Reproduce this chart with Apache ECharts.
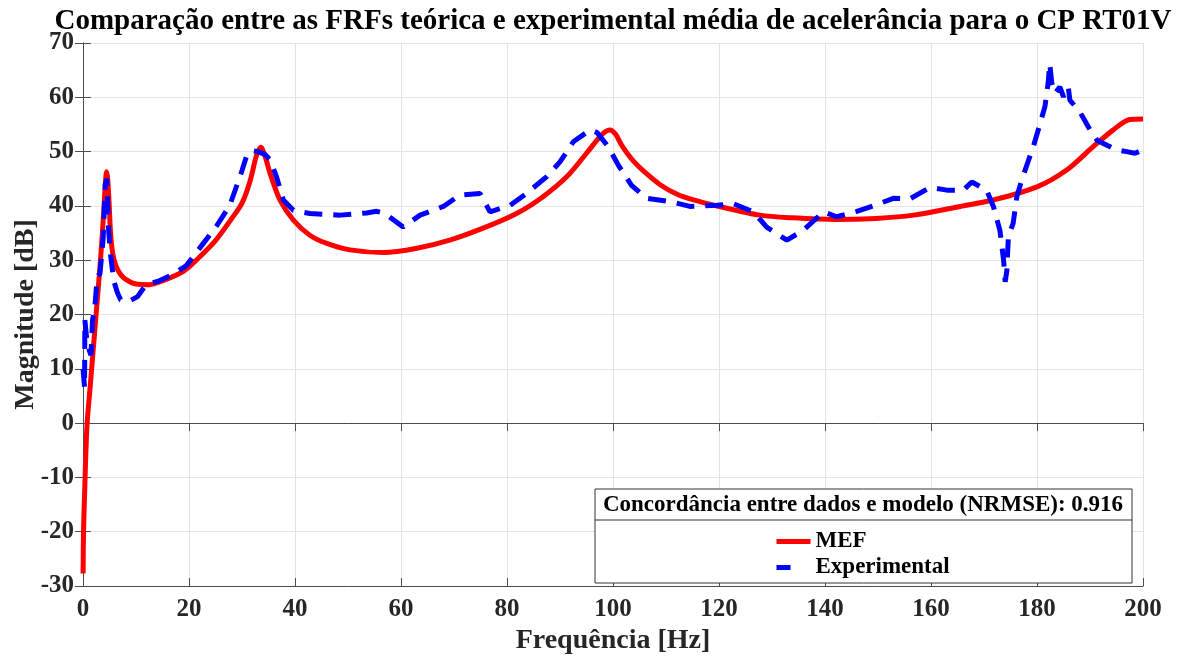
<!DOCTYPE html>
<html>
<head>
<meta charset="utf-8">
<script src="https://cdn.jsdelivr.net/npm/echarts@6/dist/echarts.min.js"></script>
<style>
  html, body { margin: 0; padding: 0; background: #fff; }
  #chart { width: 1179px; height: 658px; }
</style>
</head>
<body>
<div id="chart"></div>
<script>
// FRF teórica (MEF) - [frequência Hz, magnitude dB]
var mefData = [
  [0.02, -27.7], [0.1, -20], [0.3, -13], [0.75, -0.5], [1.4, 7.2], [2.35, 18.6],
  [3.3, 30], [3.9, 38.8], [4.25, 44.5], [4.45, 46.3], [4.65, 45], [4.9, 41],
  [5.2, 35], [5.6, 31.3], [6.2, 29], [7, 27.5], [8, 26.5], [10, 25.6],
  [12.5, 25.5], [15, 26.2], [19, 28], [22, 30.6], [25, 33.6], [28, 37.6],
  [30, 40.5], [31.5, 44.5], [32.8, 49.5], [33.6, 50.8], [34.3, 49.3], [35.3, 46],
  [37.2, 41], [39.7, 37.4], [42.8, 34.6], [46, 33.1], [50.4, 31.9], [56.7, 31.4],
  [63, 32.2], [69.2, 33.7], [75.5, 35.9], [81.8, 38.6], [86.8, 41.7], [91.3, 45.4],
  [95, 49.7], [97.5, 52.7], [98.6, 53.7], [99.4, 54], [100.5, 53.2], [101.5, 51.4],
  [102.6, 49.8], [104, 48.1], [106, 46.2], [108.9, 43.9], [112, 42.2], [115.2, 41.1],
  [120, 39.9], [127.7, 38.3], [134, 37.8], [142, 37.5], [149.7, 37.7], [156.7, 38.3],
  [165.5, 39.9], [171.8, 41.1], [180, 43.5], [185.6, 46.6], [190.6, 50.9], [194.4, 54],
  [197.5, 55.9], [200, 56]
];

// FRF experimental média - [frequência Hz, magnitude dB]
var expData = [
  [0, 10], [0.3, 6.5], [0.35, 19], [0.8, 14.5], [1.5, 12.5], [1.8, 19], [2.2, 21],
  [2.7, 27], [3.2, 27.5], [3.8, 34], [4.2, 44], [4.5, 45], [4.8, 36], [5.2, 31],
  [5.8, 26.2], [6.5, 24], [7.1, 22.7], [8, 22.4], [9, 22.6], [10.3, 23.3], [11.9, 25.5],
  [14.4, 26.2], [17, 27.4], [19.5, 29], [22.7, 33.1], [25.2, 36.3], [27.7, 40.1],
  [30, 46.5], [30.9, 49.3], [31.9, 50.2], [33, 50], [34.3, 49.5], [35.3, 48.5],
  [36.5, 45.4], [37.8, 41.1], [39.7, 39.2], [42.8, 38.6], [48.5, 38.3], [53.5, 38.7],
  [55.4, 39], [57, 38.6], [60.4, 36.1], [63.6, 38.3], [68, 39.9], [71.1, 42],
  [74.9, 42.3], [76.8, 38.9], [80.6, 40.1], [83.7, 42.3], [87.5, 45.4], [90, 48.1],
  [92.5, 51.8], [95.7, 54], [97, 53.5], [99.1, 50.9], [101, 47.5], [103.5, 43.8],
  [106.3, 41.4], [110.8, 40.8], [114.5, 39.9], [119.6, 40.1], [122.7, 40.4],
  [126.5, 38.9], [129, 36.1], [132.8, 33.7], [135.9, 35.5], [139.7, 38.9], [142.2, 38],
  [146, 39], [149.1, 40], [152.9, 41.4], [156, 41.3], [159.8, 43.4], [163, 42.9],
  [166.1, 42.9], [167.7, 44.4], [170.5, 42.9], [171.8, 39.8], [173, 35.5], [173.7, 30],
  [174, 26], [174.3, 28], [174.6, 34.3], [175.5, 36.8], [176.2, 41.7], [177.1, 44.7],
  [178.4, 48.4], [179.3, 50.9], [180.6, 55.2], [181.5, 58.3], [182.1, 62.6],
  [182.4, 66.2], [182.8, 62.6], [183.4, 60.7], [184.3, 61.9], [185, 60.1],
  [185.9, 61.9], [186.2, 59.5], [188.1, 57.3], [190, 54], [191.3, 52.1],
  [193.1, 51.2], [195, 50.3], [196.9, 50], [198.5, 49.7], [200, 50.3]
];

var seriesNames = ['MEF', 'Experimental'];
var legendTitle = 'Concordância entre dados e modelo (NRMSE): 0.916';

var serif = '"Liberation Serif", "Times New Roman", serif';
var axisColor = '#4d4d4d';
var gridColor = '#e3e3e3';

var chart = echarts.init(document.getElementById('chart'), null, { renderer: 'canvas' });

var hiddenAxis = {
  axisLabel: { show: false },
  axisLine: { show: true, lineStyle: { color: axisColor, width: 1 } },
  axisTick: { show: true, inside: true, length: 8, lineStyle: { color: axisColor } },
  splitLine: { show: false }
};

var option = {
  backgroundColor: '#fff',
  animation: false,
  title: {
    text: 'Comparação entre as FRFs teórica e experimental média de acelerância para o CP RT01V',
    left: 608,
    textAlign: 'center',
    top: 2,
    textStyle: { fontFamily: serif, fontWeight: 'bold', fontSize: 29, color: '#000' }
  },
  grid: { left: 83, right: 36, top: 43, bottom: 72, outerBoundsMode: 'none', containLabel: false },
  xAxis: [
    {
      type: 'value', min: 0, max: 200, interval: 20,
      name: 'Frequência [Hz]', nameLocation: 'middle', nameGap: 36,
      nameTextStyle: { fontFamily: serif, fontWeight: 'bold', fontSize: 28, color: '#262626' },
      axisLabel: { fontFamily: serif, fontWeight: 'bold', fontSize: 25, color: '#262626', margin: 11 },
      axisLine: { show: true, onZero: false, lineStyle: { color: axisColor, width: 1 } },
      axisTick: { show: true, inside: true, length: 8, lineStyle: { color: axisColor } },
      splitLine: { show: true, lineStyle: { color: gridColor, width: 1 } }
    },
    Object.assign({ type: 'value', min: 0, max: 200, interval: 20, position: 'top' }, hiddenAxis)
  ],
  yAxis: [
    {
      type: 'value', min: -30, max: 70, interval: 10,
      name: 'Magnitude [dB]', nameLocation: 'middle', nameGap: 43, nameMoveOverlap: false,
      nameTextStyle: { fontFamily: serif, fontWeight: 'bold', fontSize: 28, color: '#262626' },
      axisLabel: { fontFamily: serif, fontWeight: 'bold', fontSize: 25, color: '#262626', margin: 9 },
      axisLine: { show: true, onZero: false, lineStyle: { color: axisColor, width: 1 } },
      axisTick: { show: true, inside: true, length: 8, lineStyle: { color: axisColor } },
      splitLine: { show: true, lineStyle: { color: gridColor, width: 1 } }
    },
    Object.assign({ type: 'value', min: -30, max: 70, interval: 10, position: 'right' }, hiddenAxis)
  ],
  legend: {
    orient: 'vertical',
    left: 769,
    top: 525,
    z: 10,
    itemGap: 3,
    itemWidth: 34,
    itemHeight: 22,
    itemStyle: { opacity: 0 },
    data: [
      { name: seriesNames[0], lineStyle: { width: 5, type: 'solid' } },
      { name: seriesNames[1], lineStyle: { width: 5, type: [14, 40] } }
    ],
    textStyle: { fontFamily: serif, fontWeight: 'bold', fontSize: 23, color: '#000', padding: [0, 0, 0, 0] }
  },
  graphic: [
    {
      type: 'rect', z: 8,
      shape: { x: 595, y: 489, width: 537, height: 94 },
      style: { fill: '#fff', stroke: '#333', lineWidth: 1 }
    },
    {
      type: 'line', z: 9,
      shape: { x1: 595, y1: 520, x2: 1132, y2: 520 },
      style: { stroke: '#333', lineWidth: 1 }
    },
    {
      type: 'text', z: 9,
      x: 863, y: 505,
      style: {
        text: legendTitle, fill: '#000',
        font: 'bold 23px ' + serif,
        textAlign: 'center', textVerticalAlign: 'middle'
      }
    }
  ],
  series: [
    {
      name: seriesNames[0],
      type: 'line',
      data: mefData,
      smooth: 0.3,
      symbol: 'none',
      clip: true,
      lineStyle: { color: '#ff0000', width: 5 },
      itemStyle: { color: '#ff0000' }
    },
    {
      name: seriesNames[1],
      type: 'line',
      data: expData,
      symbol: 'none',
      clip: true,
      lineStyle: { color: '#0000ff', width: 5, type: [18, 11] },
      itemStyle: { color: '#0000ff' }
    }
  ]
};

chart.setOption(option);
</script>
</body>
</html>
